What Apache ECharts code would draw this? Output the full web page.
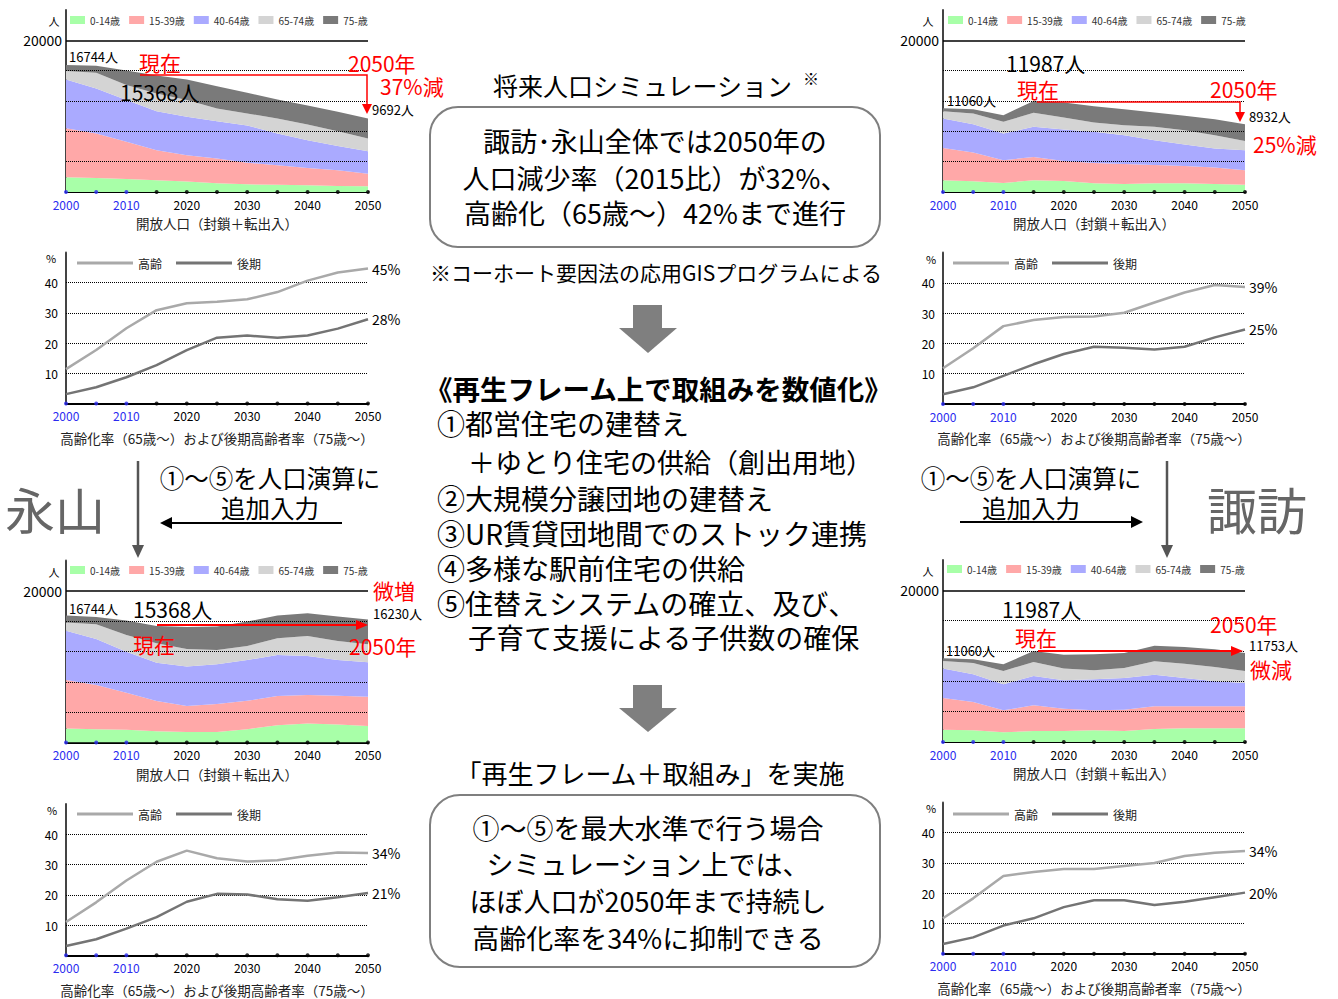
<!DOCTYPE html>
<html><head><meta charset="utf-8">
<script src="https://cdn.jsdelivr.net/npm/echarts@6/dist/echarts.min.js"></script>
<style>html,body{margin:0;padding:0;background:#fff;}#c{width:1338px;height:999px;}</style>
</head><body><div id="c"></div>
<script>
// ---------- data ----------
const years = ['2000','2005','2010','2015','2020','2025','2030','2035','2040','2045','2050'];
const observedYears = ['2000','2005','2010'];
const ageGroups = ['0-14歳','15-39歳','40-64歳','65-74歳','75-歳'];
const rateNames = ['高齢','後期'];
const areaGridValues = [4000,8000,12000,16000,20000];
const areaTickLabels = [20000];
const rateGridValues = [10,20,30,40];
const rateTickLabels = [10,20,30,40];

// 永山 (current trend)
const nagaBase0_14  = [1940,1850,1720,1540,1370,1150,1010,970,880,790,750];
const nagaBase15_39 = [6480,5860,4890,3960,3480,3260,2860,2560,2290,2070,1670];
const nagaBase40_64 = [6430,5950,5510,5150,5070,4930,4890,4190,3660,3220,2950];
const nagaBase65_74 = [1100,2070,1980,2340,2200,1670,1590,1980,2070,1940,1680];
const nagaBase75    = [790,920,1930,2380,2730,2950,2730,2500,2510,2550,2640];
// 諏訪 (current trend)
const suwaBase0_14  = [1540,1410,1190,1540,1450,1150,1060,1150,1150,1060,970];
const suwaBase15_39 = [4270,3790,3000,3080,2640,2690,2640,2420,2290,2160,1890];
const suwaBase40_64 = [3880,3740,3520,3970,4140,4100,3790,3260,2820,2510,2640];
const suwaBase65_74 = [970,1410,1540,1850,1590,1230,1320,1760,1890,1760,1230];
const suwaBase75    = [400,570,880,1550,1990,2150,2110,1890,1890,2110,2200];
// 永山 (with measures)
const nagaPlan0_14  = [1850,1760,1670,1500,1370,1370,1760,2290,2510,2380,2160];
const nagaPlan15_39 = [6390,5820,4890,3960,3440,3700,3740,3830,3740,3790,3880];
const nagaPlan40_64 = [6480,6080,5420,5070,5200,5240,5370,5420,5150,4710,4540];
const nagaPlan65_74 = [1100,1940,2200,2560,2330,1890,1850,2200,2640,2510,2380];
const nagaPlan75    = [920,960,1900,2280,2900,3090,3230,3000,3010,3220,3270];
// 諏訪 (with measures)
const suwaPlan0_14  = [1630,1540,1280,1450,1450,1540,1450,1710,1800,1800,1800];
const suwaPlan15_39 = [4180,3740,2900,3390,2950,2640,2810,2990,2900,2900,2900];
const suwaPlan40_64 = [3870,3650,3430,3870,3740,4090,4180,4180,3740,3300,3080];
const suwaPlan65_74 = [1010,1490,1760,1840,1540,1190,1320,1760,1890,1890,1580];
const suwaPlan75    = [370,480,870,1440,1840,2100,1980,2060,2200,2330,2390];

// ageing rates (%)
const nagaBaseAged = [11.4,17.7,24.9,30.9,33.2,33.7,34.5,36.9,40.7,43.4,44.7];
const nagaBaseLate = [3.1,5.4,8.7,12.7,17.7,21.8,22.5,21.8,22.5,24.8,27.9];
const suwaBaseAged = [11.8,18.4,25.7,27.7,28.7,28.9,30.1,33.5,36.8,39.3,38.6];
const suwaBaseLate = [3.2,5.5,9.3,13.1,16.5,18.9,18.6,18.0,18.9,22.0,24.6];
const nagaPlanAged = [11.0,17.5,24.7,30.9,34.6,32.1,31.0,31.4,32.9,34.0,33.8];
const nagaPlanLate = [3.1,5.3,8.8,12.6,17.7,20.3,20.1,18.5,18.0,19.2,20.6];
const suwaPlanAged = [11.7,18.3,25.7,27.0,28.0,28.0,29.0,30.0,32.3,33.4,34.0];
const suwaPlanLate = [3.2,5.4,9.3,11.7,15.4,17.7,17.7,16.1,17.2,18.7,20.2];

// ---------- styles / layout ----------
const FONT = '"Noto Sans CJK JP", "Noto Sans", sans-serif';
const ageColors = ['#a8ffa8','#ffa8a8','#aaaaff','#d4d4d4','#7a7a7a'];
const rateColors = ['#a9a9a9','#747474'];
const RED = '#ff0000';

const areaPanels = [
  {grid:{left:66,top:10,width:302,height:182},   legend:{left:70,top:15},  groups:[nagaBase0_14,nagaBase15_39,nagaBase40_64,nagaBase65_74,nagaBase75], nameGap:24},
  {grid:{left:943,top:10,width:302,height:182},  legend:{left:948,top:15}, groups:[suwaBase0_14,suwaBase15_39,suwaBase40_64,suwaBase65_74,suwaBase75], nameGap:24},
  {grid:{left:66,top:560.5,width:302,height:182},legend:{left:70,top:565}, groups:[nagaPlan0_14,nagaPlan15_39,nagaPlan40_64,nagaPlan65_74,nagaPlan75], nameGap:25},
  {grid:{left:943,top:560,width:302,height:182}, legend:{left:947,top:564},groups:[suwaPlan0_14,suwaPlan15_39,suwaPlan40_64,suwaPlan65_74,suwaPlan75], nameGap:24}
];
const ratePanels = [
  {grid:{left:66,top:252.5,width:302,height:151},  legend:{left:77,top:257},  lines:[nagaBaseAged,nagaBaseLate]},
  {grid:{left:943,top:252.5,width:302,height:151.5},legend:{left:953,top:257}, lines:[suwaBaseAged,suwaBaseLate]},
  {grid:{left:66,top:804,width:302,height:151.3},  legend:{left:77,top:808},  lines:[nagaPlanAged,nagaPlanLate]},
  {grid:{left:943,top:802.5,width:302,height:151.2},legend:{left:953,top:808}, lines:[suwaPlanAged,suwaPlanLate]}
];

const option = {animation:false, textStyle:{fontFamily:FONT}, grid:[], xAxis:[], yAxis:[], series:[], legend:[], graphic:[]};

function xAxisCfg(gi, name, gap){
  return {gridIndex:gi, type:'category', data:years, boundaryGap:false,
    axisLine:{lineStyle:{color:'#000',width:2}}, axisTick:{show:false},
    axisLabel:{interval:1, fontSize:12, color:'#000', margin:6, fontFamily:FONT,
      formatter:v => observedYears.includes(v) ? '{b|'+v+'}' : v,
      rich:{b:{color:'#2b2bf0', fontSize:12, fontFamily:FONT}}},
    name:name, nameLocation:'middle', nameGap:gap,
    nameTextStyle:{fontSize:13.5, color:'#222', fontFamily:FONT}};
}
function dotsSeries(gi, gridVals, solidVal){
  return {type:'scatter', name:'axis'+gi, xAxisIndex:gi, yAxisIndex:gi, z:5, clip:false, silent:true,
    symbolSize:4, data:years.map(y=>[y,0]),
    itemStyle:{color:p => observedYears.includes(p.value[0]) ? '#2b2bf0' : '#000'},
    markLine:{silent:true, symbol:['none','none'], label:{show:false}, animation:false,
      data:gridVals.map(v=>({yAxis:v, lineStyle:{color:'#000', width: v===solidVal?1.5:1, type: v===solidVal?'solid':'dotted'}}))}};
}

areaPanels.forEach(p=>{
  const gi = option.grid.length;
  option.grid.push(p.grid);
  option.xAxis.push(xAxisCfg(gi,'開放人口（封鎖＋転出入）',p.nameGap));
  option.yAxis.push({gridIndex:gi, type:'value', min:0, max:24000, interval:4000, splitLine:{show:false},
    axisLine:{show:true, lineStyle:{color:'#444',width:2}}, axisTick:{show:false},
    axisLabel:{fontSize:14, color:'#000', margin:4, fontFamily:FONT, formatter:v => areaTickLabels.includes(v) ? String(v) : ''}});
  ageGroups.forEach((name,k)=>{
    option.series.push({type:'line', name, xAxisIndex:gi, yAxisIndex:gi, stack:'pop'+gi, symbol:'none',
      data:p.groups[k], itemStyle:{color:ageColors[k]}, lineStyle:{width:0, color:ageColors[k]},
      areaStyle:{color:ageColors[k], opacity:1}, z:2});
  });
  option.series.push(dotsSeries(gi, areaGridValues, 20000));
  option.legend.push({left:p.legend.left, top:p.legend.top, padding:0, itemGap:9, itemWidth:15, itemHeight:8,
    icon:'rect', selectedMode:false, data:ageGroups, textStyle:{fontSize:10, color:'#333', fontFamily:FONT}});
});

ratePanels.forEach(p=>{
  const gi = option.grid.length;
  option.grid.push(p.grid);
  option.xAxis.push(xAxisCfg(gi,'高齢化率（65歳～）および後期高齢者率（75歳～）',27.5));
  option.yAxis.push({gridIndex:gi, type:'value', min:0, max:50, interval:10, splitLine:{show:false},
    axisLine:{show:true, lineStyle:{color:'#444',width:2}}, axisTick:{show:false},
    axisLabel:{fontSize:12, color:'#000', margin:8, fontFamily:FONT, formatter:v => rateTickLabels.includes(v) ? String(v) : ''}});
  option.series.push(dotsSeries(gi, rateGridValues, null));
  rateNames.forEach((name,k)=>{
    option.series.push({type:'line', name, xAxisIndex:gi, yAxisIndex:gi, symbol:'none', z:6,
      data:p.lines[k], itemStyle:{color:rateColors[k]}, lineStyle:{width:2.5, color:rateColors[k]},
      endLabel:{show:true, distance:4, fontSize:14, color:'#000', fontFamily:FONT,
        formatter:q => Math.round(q.value) + '%'}});
  });
  option.legend.push({left:p.legend.left, top:p.legend.top, padding:0, itemGap:14, itemWidth:56, itemHeight:3,
    icon:'rect', selectedMode:false, data:rateNames, textStyle:{fontSize:12, color:'#222', fontFamily:FONT}});
});

// ---------- annotations ----------
function T(x,y,text,size,o){
  o = o || {};
  return {type:'text', x, y, z:o.z===undefined?20:o.z, silent:true,
    style:{text, fontSize:size, fontFamily:FONT, fontWeight:o.bold?'bold':'normal', fill:o.color||'#000',
      align:o.align||'left', verticalAlign:'middle', textAlign:o.align||'left', textVerticalAlign:'middle'}};
}
function L(points,color,w){ return {type:'polyline', z:21, silent:true, shape:{points}, style:{stroke:color, lineWidth:w, fill:'none'}}; }
function P(points,color){ return {type:'polygon', z:21, silent:true, shape:{points}, style:{fill:color}}; }
const g = option.graphic;

// unit labels
[[54,21,'人'],[928,21,'人'],[54,572,'人'],[928,571,'人']].forEach(a=>g.push(T(a[0],a[1],a[2],11,{align:'center'})));
[[51,258,'%'],[931,259,'%'],[52,810,'%'],[931,808,'%']].forEach(a=>g.push(T(a[0],a[1],a[2],11,{align:'center'})));

// TL
g.push(T(69,56,'16744人',13), T(139,62,'現在',21,{color:RED}), T(120,92,'15368人',21),
  T(348,63,'2050年',21,{color:RED}), T(380,86,'37%減',21,{color:RED}), T(372,109,'9692人',13));
g.push(L([[140,75],[367,75],[367,105]],RED,1.5), P([[362,104],[372,104],[367,114]],RED));
// TR
g.push(T(1006,63,'11987人',21), T(1017,89,'現在',21,{color:RED}), T(1210,89,'2050年',21,{color:RED}),
  T(947,100,'11060人',13,{z:1}), T(1249,116,'8932人',13), T(1253,144,'25%減',21,{color:RED}));
g.push(L([[1037,102],[1240,102],[1240,113]],RED,1.5), P([[1235,112],[1245,112],[1240,122]],RED));
// BL
g.push(T(69,608,'16744人',13), T(133,609,'15368人',21), T(373,590,'微増',21,{color:RED}),
  T(373,613,'16230人',13), T(133,644,'現在',21,{color:RED}), T(349,646,'2050年',21,{color:RED}));
g.push(L([[157,625],[358,625]],RED,2), P([[368,625],[356,620],[356,630]],RED));
// BR
g.push(T(1002,609,'11987人',21), T(1015,637,'現在',21,{color:RED}), T(1210,624,'2050年',21,{color:RED}),
  T(946,650,'11060人',13,{z:1}), T(1249,645,'11753人',13), T(1250,669,'微減',21,{color:RED}));
g.push(L([[1038,651],[1233,651]],RED,2), P([[1243,651],[1231,646],[1231,656]],RED));

// side labels & arrows
const DG = '#555';
g.push(T(55,508,'永山',50,{align:'center',color:'#666'}), T(1257,508,'諏訪',50,{align:'center',color:'#666'}));
g.push(T(270,477,'①～⑤を人口演算に',24.5,{align:'center'}), T(270,507,'追加入力',24.5,{align:'center'}));
g.push(T(1031,477,'①～⑤を人口演算に',24.5,{align:'center'}), T(1031,507,'追加入力',24.5,{align:'center'}));
g.push(L([[342,523],[168,523]],'#000',2), P([[160,523],[172,517],[172,529]],'#000'));
g.push(L([[960,522],[1135,522]],'#000',2), P([[1143,522],[1131,516],[1131,528]],'#000'));
g.push(L([[138,461],[138,548]],DG,2.5), P([[132,545],[144,545],[138,558]],DG));
g.push(L([[1167,461],[1167,548]],DG,2.5), P([[1161,545],[1173,545],[1167,558]],DG));

// centre column
const GA = '#7f7f7f';
g.push(T(493,85,'将来人口シミュレーション',25), T(803,78,'※',16));
g.push({type:'rect', z:1, silent:true, shape:{x:430,y:107,width:450,height:140,r:28}, style:{fill:'none',stroke:GA,lineWidth:2}});
g.push(T(655,140,'諏訪･永山全体では2050年の',27,{align:'center'}),
  T(655,177,'人口減少率（2015比）が32%、',27,{align:'center'}),
  T(655,212,'高齢化（65歳～）42%まで進行',27,{align:'center'}));
g.push(T(656,272,'※コーホート要因法の応用GISプログラムによる',21,{align:'center'}));
g.push({type:'rect', z:1, silent:true, shape:{x:633,y:305,width:29,height:24}, style:{fill:GA}}, P([[619,328],[677,328],[648,353]],GA));
g.push(T(425,388,'《再生フレーム上で取組みを数値化》',27.5,{bold:true}));
g.push(T(437,423,'①都営住宅の建替え',28), T(468,461,'＋ゆとり住宅の供給（創出用地）',27),
  T(437,498,'②大規模分譲団地の建替え',28), T(437,533,'③UR賃貸団地間でのストック連携',28),
  T(437,568,'④多様な駅前住宅の供給',28), T(437,603,'⑤住替えシステムの確立、及び、',28),
  T(468,637,'子育て支援による子供数の確保',28));
g.push({type:'rect', z:1, silent:true, shape:{x:633,y:685,width:29,height:24}, style:{fill:GA}}, P([[619,708],[677,708],[648,732]],GA));
g.push(T(650,772,'「再生フレーム＋取組み」を実施',26,{align:'center'}));
g.push({type:'rect', z:1, silent:true, shape:{x:430,y:795,width:450,height:172,r:30}, style:{fill:'none',stroke:GA,lineWidth:2}});
g.push(T(648,827,'①～⑤を最大水準で行う場合',27,{align:'center'}),
  T(648,863,'シミュレーション上では、',27,{align:'center'}),
  T(648,900,'ほぼ人口が2050年まで持続し',27,{align:'center'}),
  T(648,937,'高齢化率を34%に抑制できる',27,{align:'center'}));

const chart = echarts.init(document.getElementById('c'), null, {renderer:'svg', width:1338, height:999});
chart.setOption(option);
</script>
</body></html>
